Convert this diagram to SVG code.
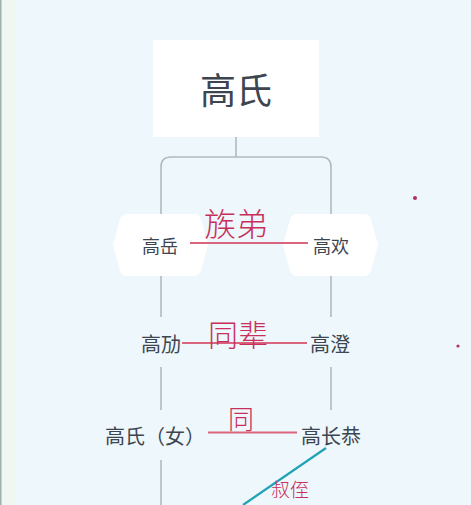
<svg xmlns="http://www.w3.org/2000/svg" width="471" height="505" viewBox="0 0 471 505">
<style>
.bg{fill:#eef7fc}
.ln{fill:none;stroke:#b3b9be;stroke-width:1.6}
.red{stroke:#d9667e;stroke-width:2;fill:none}
.t{font-family:"Noto Sans CJK SC","Noto Sans",sans-serif;fill:#3d4650;text-anchor:middle;dominant-baseline:central}
.hw{font-family:"Noto Sans CJK SC",sans-serif;fill:#c8305a;text-anchor:middle;font-weight:300}
.box{fill:#ffffff}
</style>
<rect class="bg" x="0" y="0" width="471" height="505"/>
<rect x="0" y="0" width="16" height="505" fill="#f0f7f3"/>
<rect x="0" y="0" width="1.5" height="505" fill="#9fb0ae"/>
<g id="connectors">
<path class="ln" d="M236,137 V157 M161,215 V167 Q161,157 171,157 H321 Q331,157 331,167 V215"/>
<path class="ln" d="M161,275 V317 M161,367 V410 M161,460 V505"/>
<path class="ln" d="M331,275 V317 M331,367 V410"/>
</g>
<g id="root">
<rect class="box" x="153" y="40" width="166" height="97"/>
<text class="t" x="236" y="88" font-size="36">高氏</text>
</g>
<g id="gaoyue">
<path class="box" d="M127,214 H194 Q199,214 201,219 L208,245 L201,271 Q199,276 194,276 H127 Q122,276 120,271 L113,245 L120,219 Q122,214 127,214 Z"/>
<text class="t" x="160" y="245" font-size="18">高岳</text>
</g>
<g id="gaohuan">
<path class="box" d="M297,214 H364 Q369,214 371,219 L378,245 L371,271 Q369,276 364,276 H297 Q292,276 290,271 L283,245 L290,219 Q292,214 297,214 Z"/>
<text class="t" x="331" y="245" font-size="18">高欢</text>
</g>
<g id="gaomai"><text class="t" x="161" y="343" font-size="20">高劢</text></g>
<g id="gaocheng"><text class="t" x="330" y="343" font-size="20">高澄</text></g>
<g id="gaoshinv"><text class="t" x="155" y="435" font-size="20">高氏（女）</text></g>
<g id="gaochanggong"><text class="t" x="331" y="435" font-size="20">高长恭</text></g>
<g id="notes">
<path class="red" d="M190,243 H308"/>
<path class="red" d="M182,343 H307"/>
<path class="red" d="M208,432.5 H297"/>
<path d="M326,448 L243,505" stroke="#1fa3b5" stroke-width="2.2" fill="none"/>
<text class="hw" x="236" y="236" font-size="32">族弟</text>
<text class="hw" x="238" y="346" font-size="30">同辈</text>
<text class="hw" x="241" y="429" font-size="26">同</text>
<text class="hw" x="290" y="497" font-size="19">叔侄</text>
<circle cx="415" cy="198" r="2" fill="#b0305a"/>
<circle cx="458" cy="346" r="1.6" fill="#b0305a"/>
</g>
</svg>
